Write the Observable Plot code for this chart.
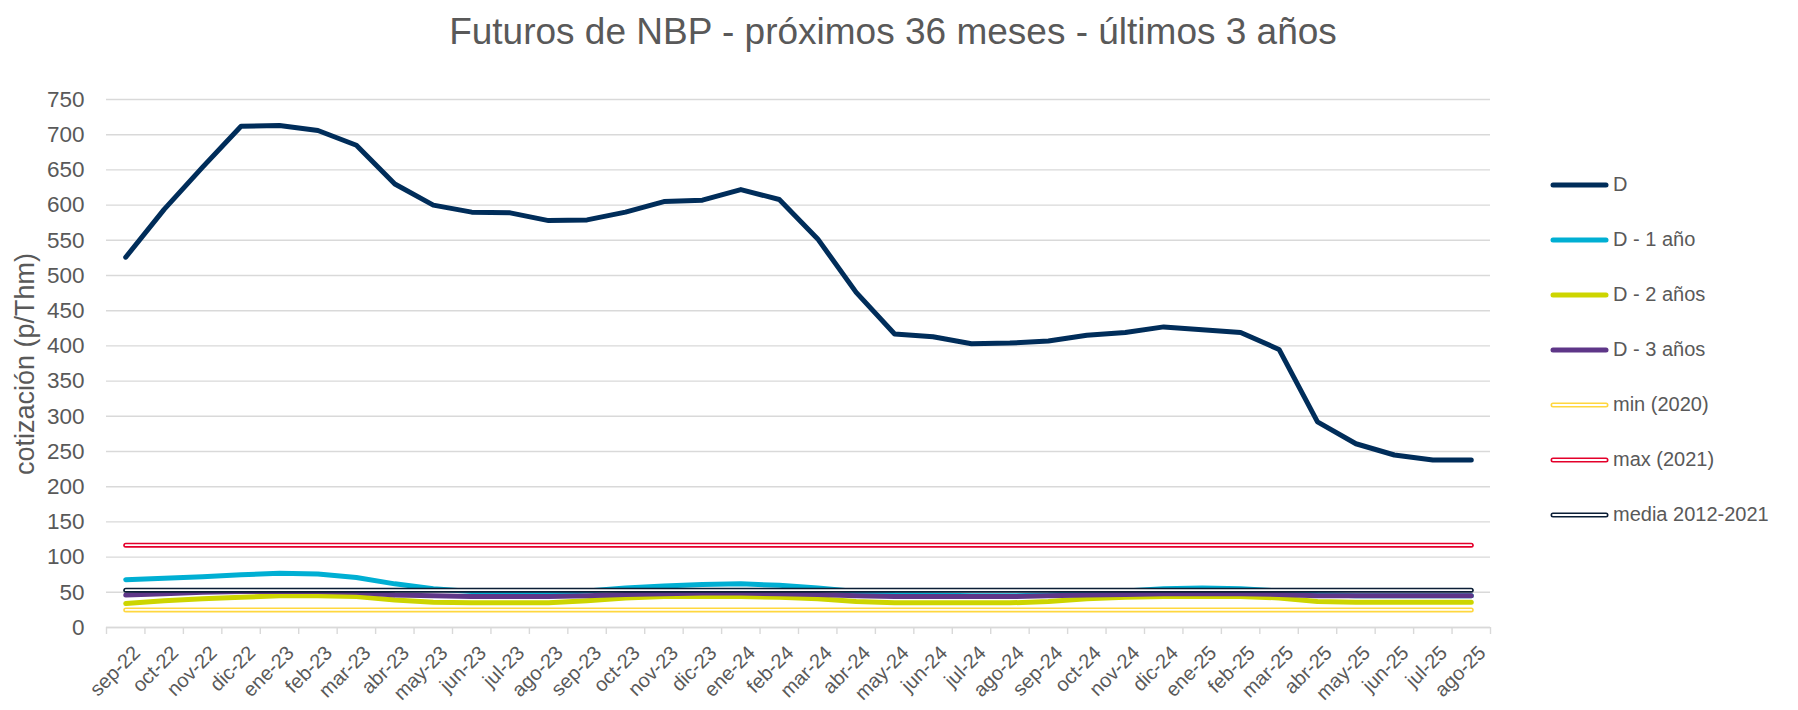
<!DOCTYPE html>
<html>
<head>
<meta charset="utf-8">
<script src="https://cdn.jsdelivr.net/npm/d3@7"></script>
<script src="https://cdn.jsdelivr.net/npm/@observablehq/plot@0.6"></script>
<style>
  html, body { margin: 0; padding: 0; background: #fff; }
  #wrap { position: relative; width: 1798px; height: 710px; font-family: "Liberation Sans", Arial, sans-serif; color: #595959; }
  #title { position: absolute; left: -6px; top: 11px; width: 1798px; text-align: center; font-size: 37px; color: #595959; white-space: nowrap; }
  #ylabel { position: absolute; left: 25px; top: 364px; transform: translate(-50%, -50%) rotate(-90deg); font-size: 27px; color: #595959; white-space: nowrap; }
  #chart { position: absolute; left: 0; top: 0; }
  #legend { position: absolute; left: 1549px; top: 157px; }
  .item { display: flex; align-items: center; height: 55px; font-size: 20px; color: #595959; }
  .item svg { margin-right: 2px; }
</style>
</head>
<body>
<div id="wrap">
  <div id="chart"></div>
  <div id="title">Futuros de NBP - próximos 36 meses - últimos 3 años</div>
  <div id="ylabel">cotización (p/Thm)</div>
  <div id="legend"></div>
</div>
<script>
// ---- data ----
const months = ["sep-22","oct-22","nov-22","dic-22","ene-23","feb-23","mar-23","abr-23","may-23","jun-23","jul-23","ago-23",
  "sep-23","oct-23","nov-23","dic-23","ene-24","feb-24","mar-24","abr-24","may-24","jun-24","jul-24","ago-24",
  "sep-24","oct-24","nov-24","dic-24","ene-25","feb-25","mar-25","abr-25","may-25","jun-25","jul-25","ago-25"];

const serieD = [526, 594, 654, 712, 713, 706, 685, 630, 600, 590, 589, 578,
  579, 590, 605, 607, 622, 608, 552, 476, 417, 413, 403, 404,
  407, 415, 419, 427, 423, 419, 395, 292, 261, 245, 238, 238];

const serieD1 = [68, 70, 72, 75, 77, 76, 71, 62, 55, 51, 50, 49,
  52, 56, 59, 61, 62, 60, 56, 51, 47, 46, 45, 45,
  46, 49, 52, 55, 56, 55, 52, 47, 45, 45, 45, 45];

const serieD2 = [34, 38, 41, 43, 45, 45, 44, 39, 36, 35, 35, 35,
  38, 42, 44, 44, 44, 43, 41, 37, 35, 35, 35, 35,
  37, 41, 43, 44, 44, 44, 42, 37, 36, 36, 36, 36];

const serieD3 = [46, 48, 50, 51, 51, 51, 50, 46, 45, 44, 44, 44,
  45, 47, 48, 49, 49, 48, 47, 45, 44, 44, 44, 44,
  45, 46, 47, 48, 48, 48, 47, 45, 45, 45, 45, 45];

const minVal = 25;     // min (2020)
const maxVal = 117;    // max (2021)
const mediaVal = 53;   // media 2012-2021

const yTicks = [0, 50, 100, 150, 200, 250, 300, 350, 400, 450, 500, 550, 600, 650, 700, 750];

const seriesNames = ["D", "D - 1 año", "D - 2 años", "D - 3 años", "min (2020)", "max (2021)", "media 2012-2021"];
const seriesColors = ["#002D5A", "#00AFD3", "#CDD500", "#5E3688", "#FFD73F", "#E4002B", "#0B1E36"];
const doubleLine = [false, false, false, false, true, true, true];

// ---- tables ----
const idx = months.map((m, i) => i);
const table = (vals) => idx.map(i => ({i, v: vals[i]}));
const constTable = (c) => idx.map(i => ({i, v: c}));
const lineSeries = [
  table(serieD), table(serieD1), table(serieD2), table(serieD3),
  constTable(minVal), constTable(maxVal), constTable(mediaVal)
];
const boundaries = d3.range(months.length + 1).map(k => k - 0.5);

const lineMarks = [];
lineSeries.forEach((data, s) => {
  lineMarks.push(Plot.line(data, {x: "i", y: "v", stroke: seriesColors[s], strokeWidth: 5, strokeLinecap: "round", strokeLinejoin: "round"}));
  if (doubleLine[s]) {
    lineMarks.push(Plot.line(data, {x: "i", y: "v", stroke: "#ffffff", strokeWidth: 1.8, strokeLinecap: "round"}));
  }
});

const chart = Plot.plot({
  width: 1798,
  height: 710,
  marginLeft: 106,
  marginRight: 308,
  marginTop: 99,
  marginBottom: 83,
  style: {fontFamily: "'Liberation Sans', Arial, sans-serif", fontSize: "20px", color: "#595959", background: "transparent"},
  x: {type: "linear", domain: [-0.5, months.length - 0.5]},
  y: {domain: [0, 750]},
  marks: [
    Plot.gridY(yTicks, {stroke: "#d9d9d9", strokeOpacity: 1, strokeWidth: 1.4}),
    Plot.ruleY([0], {stroke: "#d9d9d9", strokeWidth: 1.6}),
    Plot.axisX({ticks: boundaries, tickFormat: () => "", tickSize: 7, stroke: "#d9d9d9", strokeWidth: 1.4, label: null}),
    Plot.axisX({ticks: idx, tickFormat: i => months[i], tickRotate: -45, tickSize: 0, tickPadding: 22, dx: 11, fontSize: 20, fill: "#595959", label: null}),
    Plot.axisY({ticks: yTicks, tickSize: 0, tickPadding: 22, fontSize: 22.5, fill: "#595959", label: null}),
    ...lineMarks
  ]
});
document.getElementById("chart").appendChild(chart);

// ---- legend ----
const legend = document.getElementById("legend");
seriesNames.forEach((name, s) => {
  const item = document.createElement("div");
  item.className = "item";
  const ns = "http://www.w3.org/2000/svg";
  const sv = document.createElementNS(ns, "svg");
  sv.setAttribute("width", 62); sv.setAttribute("height", 12);
  const l = document.createElementNS(ns, "line");
  l.setAttribute("x1", 4); l.setAttribute("x2", 57); l.setAttribute("y1", 6); l.setAttribute("y2", 6);
  l.setAttribute("stroke", seriesColors[s]); l.setAttribute("stroke-width", 5); l.setAttribute("stroke-linecap", "round");
  sv.appendChild(l);
  if (doubleLine[s]) {
    const w = document.createElementNS(ns, "line");
    w.setAttribute("x1", 4); w.setAttribute("x2", 57); w.setAttribute("y1", 6); w.setAttribute("y2", 6);
    w.setAttribute("stroke", "#fff"); w.setAttribute("stroke-width", 1.8); w.setAttribute("stroke-linecap", "round");
    sv.appendChild(w);
  }
  item.appendChild(sv);
  const t = document.createElement("span");
  t.textContent = name;
  item.appendChild(t);
  legend.appendChild(item);
});
</script>
</body>
</html>
